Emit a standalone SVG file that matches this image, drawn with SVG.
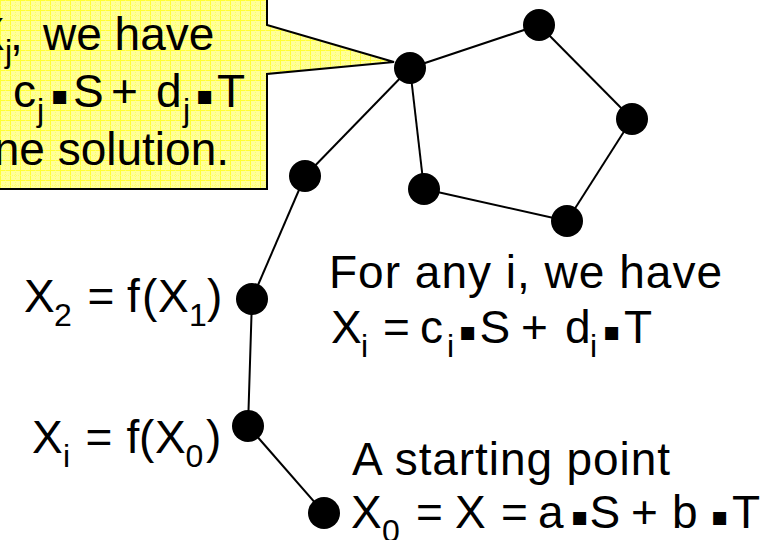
<svg xmlns="http://www.w3.org/2000/svg" width="771" height="540" viewBox="0 0 771 540">
<style>
  .t { font-family: "Liberation Sans", Arial, sans-serif; font-size: 46px; fill: #000; }
  .sub { font-size: 32px; }
  .dot { font-family: "DejaVu Sans", sans-serif; font-size: 26px; }
  .edge { stroke: #000; stroke-width: 2; fill: none; }
  .node { fill: #000; }
</style>
<defs>
  <pattern id="grid" width="10" height="10" patternUnits="userSpaceOnUse">
    <rect width="10" height="10" fill="#FFFF99"/>
    <path d="M0 0.5H10M0.5 0V10" stroke="#FFFF33" stroke-width="1"/>
    <path d="M0 5.5H10M5.5 0V10" stroke="#FFFF66" stroke-width="1" stroke-dasharray="1 1"/>
  </pattern>
</defs>
<rect width="771" height="540" fill="#fff"/>

<g id="callout">
  <path d="M-5 -5 H267 V25 L394 62 L267 74 V189 H-5 Z" fill="url(#grid)" stroke="#000" stroke-width="2"/>
  <text class="t" y="50"><tspan x="-26">X</tspan><tspan class="sub" x="5" y="62">j</tspan><tspan x="10" y="50">,</tspan><tspan x="43">we have</tspan></text>
  <text class="t" y="107"><tspan x="13">c</tspan><tspan class="sub" x="37" y="121">j</tspan><tspan class="dot" x="51" y="104">▪</tspan><tspan x="73" y="107">S</tspan><tspan x="111">+</tspan><tspan x="156">d</tspan><tspan class="sub" x="183" y="121">j</tspan><tspan class="dot" x="196" y="104">▪</tspan><tspan x="217" y="107">T</tspan></text>
  <text class="t" x="229" y="165" text-anchor="end">ne solution.</text>
</g>

<g id="connectors">
  <line class="edge" x1="324" y1="513" x2="248" y2="426"/>
  <line class="edge" x1="248" y1="426" x2="252" y2="299"/>
  <line class="edge" x1="252" y1="299" x2="305" y2="176"/>
  <line class="edge" x1="305" y1="176" x2="410" y2="68"/>
  <line class="edge" x1="410" y1="68" x2="539" y2="25"/>
  <line class="edge" x1="539" y1="25" x2="632" y2="119"/>
  <line class="edge" x1="632" y1="119" x2="567" y2="221"/>
  <line class="edge" x1="567" y1="221" x2="424" y2="189"/>
  <line class="edge" x1="424" y1="189" x2="410" y2="68"/>
</g>

<g id="n-x0"><circle class="node" cx="324" cy="513" r="16"/></g>
<g id="n-xi"><circle class="node" cx="248" cy="426" r="16"/></g>
<g id="n-x2"><circle class="node" cx="252" cy="299" r="16"/></g>
<g id="n-a"><circle class="node" cx="305" cy="176" r="16"/></g>
<g id="n-hub"><circle class="node" cx="410" cy="68" r="16"/></g>
<g id="n-top"><circle class="node" cx="539" cy="25" r="16"/></g>
<g id="n-right"><circle class="node" cx="632" cy="119" r="16"/></g>
<g id="n-br"><circle class="node" cx="567" cy="221" r="16"/></g>
<g id="n-inner"><circle class="node" cx="424" cy="189" r="16"/></g>

<g id="labels">
  <text class="t" y="312"><tspan x="24">X</tspan><tspan class="sub" x="54" y="326">2</tspan><tspan x="87.5" y="312">=</tspan><tspan x="127">f</tspan><tspan x="142">(</tspan><tspan x="158">X</tspan><tspan class="sub" x="189" y="326">1</tspan><tspan x="207" y="312">)</tspan></text>
  <text class="t" y="453"><tspan x="32">X</tspan><tspan class="sub" x="63" y="467">i</tspan><tspan x="85.5" y="453">=</tspan><tspan x="126.5">f</tspan><tspan x="139">(</tspan><tspan x="155">X</tspan><tspan class="sub" x="185.5" y="467">0</tspan><tspan x="206" y="453">)</tspan></text>
  <text class="t" x="329" y="288" textLength="393" lengthAdjust="spacing">For any i, we have</text>
  <text class="t" y="343"><tspan x="331">X</tspan><tspan class="sub" x="361" y="357">i</tspan><tspan x="383" y="343">=</tspan><tspan x="420">c</tspan><tspan class="sub" x="447" y="357">i</tspan><tspan class="dot" x="459" y="340">▪</tspan><tspan x="479.5" y="343">S</tspan><tspan x="521">+</tspan><tspan x="565">d</tspan><tspan class="sub" x="590" y="357">i</tspan><tspan class="dot" x="603" y="340">▪</tspan><tspan x="624" y="343">T</tspan></text>
  <text class="t" x="352" y="475" textLength="318" lengthAdjust="spacing">A starting point</text>
  <text class="t" y="528"><tspan x="351">X</tspan><tspan class="sub" x="382" y="542">0</tspan><tspan x="416" y="528">=</tspan><tspan x="455">X</tspan><tspan x="501">=</tspan><tspan x="538">a</tspan><tspan class="dot" x="571" y="525">▪</tspan><tspan x="589.5" y="528">S</tspan><tspan x="631">+</tspan><tspan x="672">b</tspan><tspan class="dot" x="711" y="525">▪</tspan><tspan x="732" y="528">T</tspan></text>
</g>
</svg>
